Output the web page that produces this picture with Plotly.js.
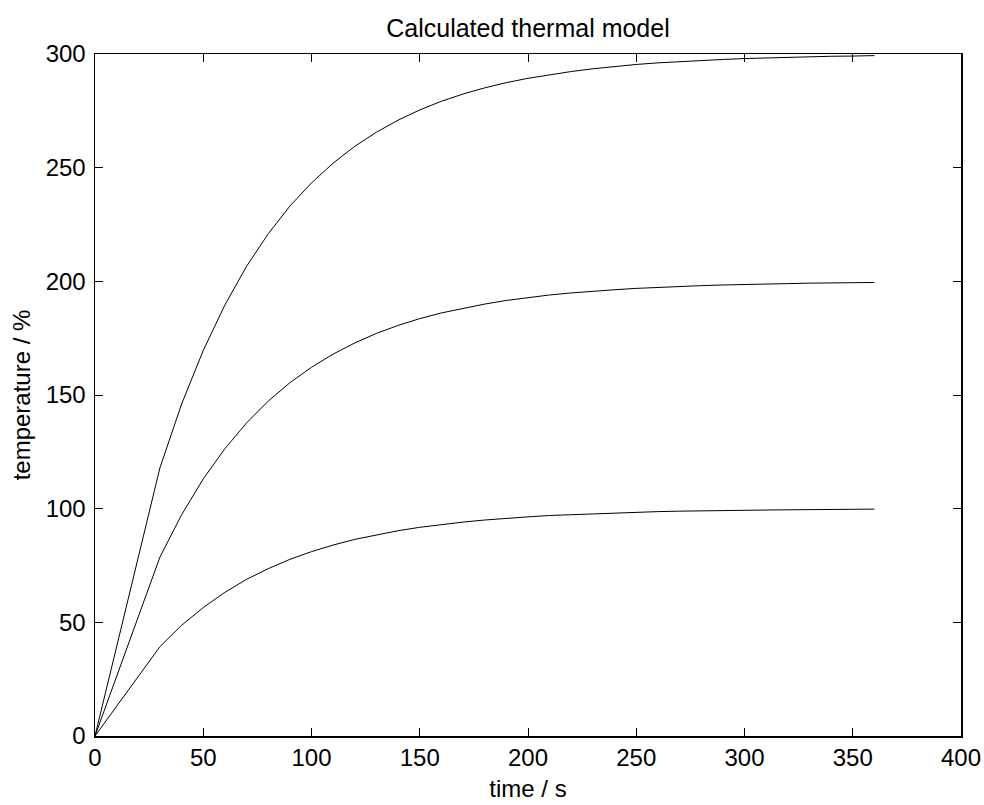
<!DOCTYPE html>
<html>
<head>
<meta charset="utf-8">
<script src="https://cdn.plot.ly/plotly-3.0.1.min.js"></script>
<style>html,body{margin:0;padding:0;background:#fff;}#chart{width:984px;height:805px;}</style>
</head>
<body>
<div id="chart"></div>
<script>
// time samples (s)
const time = [0, 30, 40, 50, 60, 70, 80, 90, 100, 110, 120, 130, 140, 150, 160, 170, 180, 190, 200,
  210, 220, 230, 240, 250, 260, 270, 280, 290, 300, 310, 320, 330, 340, 350, 360];
// temperature (%) for three load levels
const tempHigh = [0, 118.0, 146.0, 169.6, 189.6, 206.6, 220.9, 233.1, 243.3, 252.0, 259.4, 265.6, 270.9,
  275.4, 279.2, 282.4, 285.1, 287.4, 289.3, 290.9, 292.3, 293.5, 294.5, 295.4, 296.1, 296.7, 297.2,
  297.6, 298.0, 298.3, 298.6, 298.8, 299.0, 299.1, 299.3];
const tempMid = [0, 78.7, 97.3, 113.1, 126.4, 137.7, 147.3, 155.4, 162.2, 168.0, 172.9, 177.1, 180.6,
  183.6, 186.1, 188.2, 190.0, 191.6, 192.9, 194.0, 194.9, 195.7, 196.3, 196.9, 197.4, 197.8, 198.1,
  198.4, 198.7, 198.9, 199.0, 199.2, 199.3, 199.4, 199.5];
const tempLow = [0, 39.3, 48.7, 56.5, 63.2, 68.9, 73.6, 77.7, 81.1, 84.0, 86.5, 88.5, 90.3,
  91.8, 93.1, 94.1, 95.0, 95.8, 96.4, 97.0, 97.4, 97.8, 98.2, 98.4, 98.7, 98.9, 99.1,
  99.2, 99.3, 99.4, 99.5, 99.6, 99.7, 99.7, 99.8];
const series = [tempHigh, tempMid, tempLow];

const font = {family: 'Liberation Sans, Arial, sans-serif', size: 24, color: '#000'};
const titleFont = {family: 'Liberation Sans, Arial, sans-serif', size: 25, color: '#000'};
const traces = series.map(s => ({
  x: time, y: s, type: 'scatter', mode: 'lines',
  line: {color: '#000', width: 1}, showlegend: false, hoverinfo: 'skip'
}));

const axisCommon = {
  showgrid: false, zeroline: false, showline: true, linecolor: '#000', linewidth: 1.5,
  mirror: 'ticks', ticks: 'inside', ticklen: 8, tickwidth: 1, tickcolor: '#000',
  tickfont: font, dtick: 50, tick0: 0, automargin: false
};

const layout = {
  width: 984, height: 805,
  margin: {l: 95, r: 23, t: 54, b: 69},
  paper_bgcolor: '#fff', plot_bgcolor: '#fff',
  font: font,
  title: {text: 'Calculated thermal model', font: titleFont, x: 0.5, xanchor: 'center',
          y: 1 - 28/805, yanchor: 'middle', xref: 'paper'},
  xaxis: Object.assign({}, axisCommon, {range: [0, 400],
          title: {text: 'time / s', font: font, standoff: 10}}),
  yaxis: Object.assign({}, axisCommon, {range: [0, 300], ticklabelstandoff: 3,
          title: {text: 'temperature / %', font: font, standoff: 8}}),
  showlegend: false
};

Plotly.newPlot('chart', traces, layout, {displayModeBar: false, staticPlot: true});
</script>
</body>
</html>
